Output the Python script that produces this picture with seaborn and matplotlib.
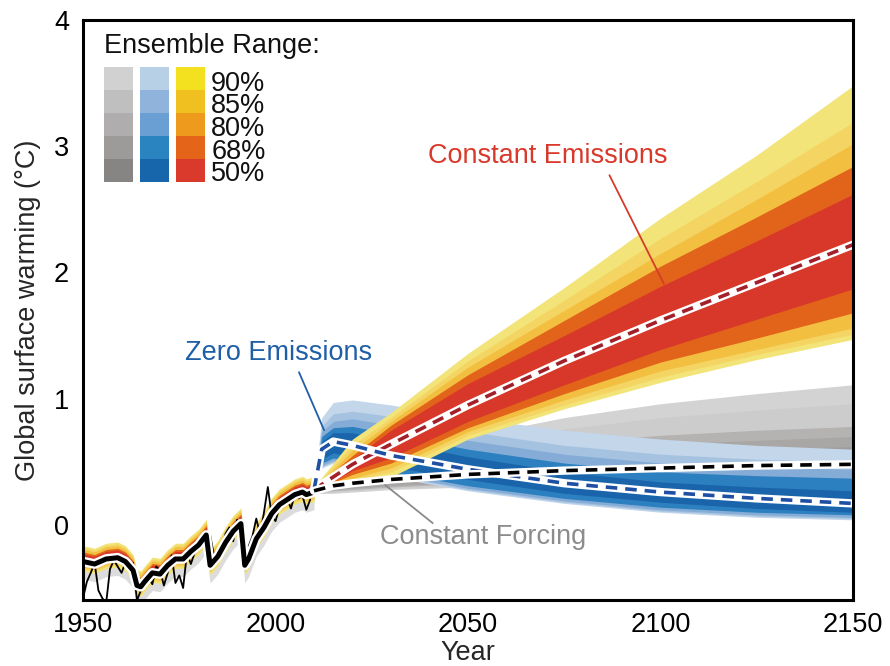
import numpy as np
import pandas as pd
import matplotlib
matplotlib.use("Agg")
import matplotlib.pyplot as plt
from matplotlib.patches import Rectangle
from matplotlib.ticker import FixedLocator
import seaborn as sns

# ---------------- data ----------------
pcts = [90, 85, 80, 68, 50]

# historical model ensemble median (thick black line)
hist_years = [1950, 1953, 1956, 1959, 1961, 1963, 1964, 1965, 1966, 1968, 1970,
              1972, 1974, 1976, 1978, 1980, 1982, 1983, 1985, 1987, 1989, 1991,
              1992, 1993, 1995, 1997, 1999, 2001, 2003, 2005, 2007, 2008, 2010]
hist_median = [-0.29, -0.31, -0.27, -0.26, -0.29, -0.36, -0.48, -0.49, -0.45, -0.38, -0.39,
               -0.32, -0.27, -0.27, -0.21, -0.16, -0.08, -0.32, -0.25, -0.14, -0.05, 0.01,
               -0.32, -0.27, -0.11, -0.02, 0.09, 0.16, 0.20, 0.24, 0.26, 0.24, 0.26]
# half widths of the historical ensemble ranges (90, 85, 80, 68, 50 %)
hist_halfwidth = [0.10, 0.085, 0.07, 0.05, 0.035]
hist_grey_halfwidth = 0.11

# observations (thin black line)
obs_years = list(range(1950, 2010))
obs_values = [-0.58, -0.45, -0.38, -0.30, -0.52, -0.58, -0.62, -0.35, -0.28, -0.33,
              -0.38, -0.30, -0.33, -0.30, -0.60, -0.52, -0.45, -0.42, -0.47, -0.33,
              -0.36, -0.48, -0.38, -0.24, -0.46, -0.40, -0.50, -0.22, -0.31, -0.22,
              -0.14, -0.08, -0.25, -0.08, -0.24, -0.27, -0.22, -0.07, -0.02, -0.13,
              0.04, 0.00, -0.19, -0.17, -0.09, 0.05, -0.08, 0.10, 0.30, 0.07,
              0.03, 0.14, 0.19, 0.21, 0.13, 0.24, 0.21, 0.23, 0.12, 0.20]

# Constant emissions
ce_years = [2010, 2020, 2030, 2050, 2075, 2100, 2125, 2150]
ce_median = [0.28, 0.48, 0.64, 0.95, 1.30, 1.62, 1.92, 2.22]
ce_upper = {90: [0.30, 0.68, 0.89, 1.36, 1.88, 2.43, 2.93, 3.48],
            85: [0.30, 0.63, 0.85, 1.30, 1.78, 2.27, 2.72, 3.19],
            80: [0.29, 0.59, 0.82, 1.25, 1.70, 2.15, 2.58, 3.02],
            68: [0.29, 0.55, 0.79, 1.19, 1.62, 2.05, 2.44, 2.84],
            50: [0.29, 0.52, 0.75, 1.12, 1.50, 1.89, 2.25, 2.62]}
ce_lower = {90: [0.26, 0.32, 0.38, 0.68, 0.92, 1.13, 1.31, 1.47],
            85: [0.26, 0.35, 0.42, 0.71, 0.95, 1.17, 1.35, 1.51],
            80: [0.27, 0.37, 0.45, 0.74, 0.99, 1.22, 1.39, 1.56],
            68: [0.27, 0.40, 0.49, 0.77, 1.04, 1.29, 1.48, 1.68],
            50: [0.27, 0.43, 0.53, 0.82, 1.11, 1.39, 1.63, 1.87]}

# Zero emissions
ze_years = [2010, 2012, 2015, 2020, 2030, 2050, 2075, 2100, 2125, 2150]
ze_median = [0.28, 0.60, 0.66, 0.63, 0.55, 0.44, 0.33, 0.26, 0.21, 0.17]
ze_upper = {90: [0.30, 0.85, 0.97, 0.99, 0.95, 0.85, 0.75, 0.68, 0.63, 0.60],
            85: [0.30, 0.78, 0.88, 0.90, 0.86, 0.74, 0.63, 0.56, 0.52, 0.50],
            80: [0.30, 0.74, 0.82, 0.84, 0.79, 0.67, 0.56, 0.49, 0.46, 0.44],
            68: [0.30, 0.70, 0.77, 0.78, 0.72, 0.60, 0.49, 0.42, 0.39, 0.37],
            50: [0.29, 0.66, 0.73, 0.73, 0.66, 0.54, 0.42, 0.34, 0.30, 0.27]}
ze_lower = {90: [0.26, 0.45, 0.49, 0.46, 0.38, 0.27, 0.17, 0.10, 0.06, 0.04],
            85: [0.26, 0.46, 0.50, 0.47, 0.39, 0.28, 0.18, 0.11, 0.07, 0.05],
            80: [0.26, 0.47, 0.51, 0.48, 0.40, 0.29, 0.19, 0.12, 0.08, 0.06],
            68: [0.27, 0.49, 0.53, 0.50, 0.42, 0.31, 0.21, 0.14, 0.10, 0.08],
            50: [0.27, 0.52, 0.57, 0.54, 0.46, 0.36, 0.25, 0.18, 0.13, 0.10]}

# Constant forcing
cf_years = [2010, 2015, 2020, 2030, 2050, 2075, 2100, 2125, 2150]
cf_median = [0.27, 0.31, 0.33, 0.36, 0.40, 0.43, 0.45, 0.47, 0.48]
cf_upper = {90: [0.29, 0.40, 0.45, 0.55, 0.70, 0.85, 0.96, 1.04, 1.11],
            85: [0.29, 0.38, 0.42, 0.50, 0.63, 0.76, 0.85, 0.91, 0.96],
            80: [0.29, 0.36, 0.40, 0.46, 0.56, 0.65, 0.71, 0.75, 0.78],
            68: [0.28, 0.35, 0.38, 0.43, 0.51, 0.59, 0.64, 0.67, 0.70],
            50: [0.28, 0.34, 0.36, 0.40, 0.47, 0.54, 0.58, 0.60, 0.62]}
cf_lower = {90: [0.25, 0.25, 0.26, 0.28, 0.30, 0.31, 0.32, 0.33, 0.33],
            85: [0.25, 0.26, 0.27, 0.29, 0.31, 0.33, 0.34, 0.35, 0.35],
            80: [0.26, 0.27, 0.28, 0.30, 0.33, 0.35, 0.36, 0.37, 0.37],
            68: [0.26, 0.28, 0.29, 0.31, 0.34, 0.36, 0.38, 0.38, 0.39],
            50: [0.26, 0.29, 0.30, 0.33, 0.36, 0.38, 0.39, 0.40, 0.40]}

# ---------------- colours ----------------
warm_band = {90: "#f2e478", 85: "#f4d563", 80: "#f2bf40", 68: "#e2631a", 50: "#d8382a"}
blue_band = {90: "#c3d6ea", 85: "#a5c2e0", 80: "#84acd6", 68: "#2d80c0", 50: "#1964aa"}
grey_band = {90: "#d4d3d3", 85: "#cdcccc", 80: "#b5b2b2", 68: "#a9a6a6", 50: "#9f9c9c"}
warm_leg = {90: "#f3e01f", 85: "#f0c020", 80: "#ee9a1c", 68: "#e4641a", 50: "#d93a2b"}
blue_leg = {90: "#b8d0e6", 85: "#8fb3da", 80: "#6a9fd4", 68: "#2a84c0", 50: "#1766ac"}
grey_leg = {90: "#d2d1d1", 85: "#c0bfbf", 80: "#afadad", 68: "#9d9a9a", 50: "#878484"}

# ---------------- figure ----------------
sns.set_theme(style="white")
plt.rcParams["font.family"] = ["Liberation Sans", "DejaVu Sans"]
FS = 19.5

fig = plt.figure(figsize=(8.9, 6.66), dpi=100)
ax = fig.add_axes([0.0933, 0.0991, 0.8652, 0.8709])

hy = np.array(hist_years, dtype=float)
hm = np.array(hist_median)

# historical grey envelope
ax.fill_between(hy, hm - hist_grey_halfwidth - 0.03, hm + hist_grey_halfwidth - 0.03,
                color="#dcdcdc", lw=0, zorder=1)
# historical coloured ensemble
for p, hw in zip(pcts, hist_halfwidth):
    ax.fill_between(hy, hm - hw + 0.025, hm + hw + 0.025, color=warm_band[p], lw=0, zorder=2)

# future ranges: grey, blue, warm
for p in pcts:
    ax.fill_between(cf_years, cf_lower[p], cf_upper[p], color=grey_band[p], lw=0, zorder=3)
for p in pcts:
    ax.fill_between(ze_years, ze_lower[p], ze_upper[p], color=blue_band[p], lw=0, zorder=4)
for p in pcts:
    ax.fill_between(ce_years, ce_lower[p], ce_upper[p], color=warm_band[p], lw=0, zorder=5)

# observations and historical median
obs_df = pd.DataFrame({"year": obs_years, "val": obs_values})
sns.lineplot(data=obs_df, x="year", y="val", ax=ax, color="black", lw=1.3, zorder=6)
hist_df = pd.DataFrame({"year": hist_years, "val": hist_median})
sns.lineplot(data=hist_df, x="year", y="val", ax=ax, color="white", lw=7.0, zorder=7,
             solid_joinstyle="round", solid_capstyle="round")
sns.lineplot(data=hist_df, x="year", y="val", ax=ax, color="black", lw=3.6, zorder=8,
             solid_joinstyle="round", solid_capstyle="round")

# scenario medians (white backing + coloured dashes)
dash = (0, (3.2, 2.2))
def median_line(years, vals, col, z):
    df = pd.DataFrame({"year": years, "val": vals})
    sns.lineplot(data=df, x="year", y="val", ax=ax, color="white", lw=6.0, zorder=z,
                 solid_joinstyle="round")
    sns.lineplot(data=df, x="year", y="val", ax=ax, color=col, lw=2.6, zorder=z + 0.5,
                 linestyle=dash)

median_line(ce_years, ce_median, "#a3202a", 9)
median_line(ze_years, ze_median, "#1f4fa3", 10)
median_line(cf_years, cf_median, "black", 11)

# ---------------- annotations ----------------
ax.annotate("", xy=(2012.9, 0.73), xytext=(2005.8, 1.23),
            arrowprops=dict(arrowstyle="-", color="#1f5fa8", lw=1.3), zorder=12)
ax.text(1976.5, 1.36, "Zero Emissions", color="#1f5fa8", fontsize=FS, va="center", ha="left")

ax.annotate("", xy=(2101.2, 1.89), xytext=(2086.4, 2.79),
            arrowprops=dict(arrowstyle="-", color="#d63a2a", lw=1.3), zorder=12)
ax.text(2039.6, 2.92, "Constant Emissions", color="#d9392b", fontsize=FS, va="center", ha="left")

ax.annotate("", xy=(2027.9, 0.33), xytext=(2041.4, 0.0),
            arrowprops=dict(arrowstyle="-", color="#8a8a8a", lw=1.3), zorder=12)
ax.text(2027.1, -0.095, "Constant Forcing", color="#8c8c8c", fontsize=FS, va="center", ha="left")

# ---------------- legend (ensemble range swatches) ----------------
ax.text(1955.4, 3.79, "Ensemble Range:", fontsize=FS, va="center", ha="left", color="#111111")
row_top = 3.627
row_h = 0.1825
cols = [(1955.45, grey_leg), (1964.8, blue_leg), (1974.2, warm_leg)]
sw_w = 7.6
for i, p in enumerate(pcts):
    y0 = row_top - (i + 1) * row_h
    for x0, cmap in cols:
        ax.add_patch(Rectangle((x0, y0), sw_w, row_h, facecolor=cmap[p], edgecolor="none",
                               zorder=13))
# percentage labels as one multi-line text block (one line per swatch row)
ax.text(1983.3, row_top - 2.5 * row_h - 0.035, "\n".join(f"{p}%" for p in pcts),
        fontsize=FS, va="center", ha="left", linespacing=0.835, color="#111111", zorder=13)

# ---------------- axes styling ----------------
ax.set_xlim(1950, 2150)
ax.set_ylim(-0.595, 4.0)
ax.xaxis.set_major_locator(FixedLocator([1950, 2000, 2050, 2100, 2150]))
ax.yaxis.set_major_locator(FixedLocator([0, 1, 2, 3, 4]))
ax.yaxis.set_minor_locator(FixedLocator([-0.5, 0.5, 1.5, 2.5, 3.5]))
ax.tick_params(axis="both", which="both", direction="in", length=5, width=1.0,
               color="black", labelsize=FS, labelcolor="black")
ax.tick_params(axis="y", pad=10)
ax.tick_params(axis="x", pad=9)
ax.set_xlabel("Year", fontsize=FS, labelpad=1)
ax.set_ylabel("Global surface warming (°C)", fontsize=FS, labelpad=9)
for s in ax.spines.values():
    s.set_visible(True)
    s.set_color("black")
    s.set_linewidth(2.2)
    s.set_zorder(20)
ax.grid(False)
ax.set_facecolor("white")

fig.savefig("out.png", dpi=100, facecolor="white")
